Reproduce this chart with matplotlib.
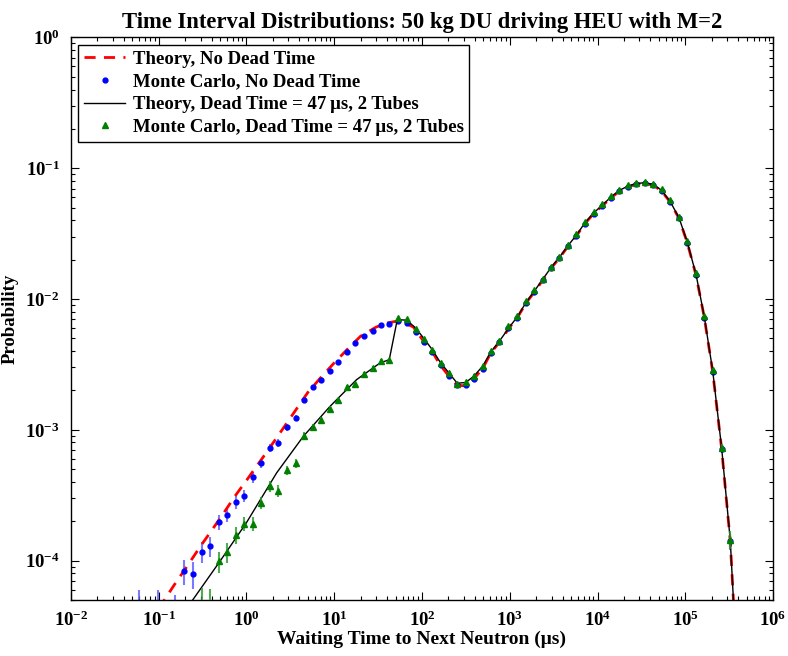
import math
import matplotlib
matplotlib.use("Agg")
import matplotlib.pyplot as plt
from matplotlib.ticker import FuncFormatter, LogLocator

plt.rcParams['font.family'] = ['Liberation Serif', 'DejaVu Serif']
plt.rcParams['font.weight'] = 'bold'
plt.rcParams['mathtext.fontset'] = 'custom'
plt.rcParams['mathtext.rm'] = 'Liberation Serif:bold'
plt.rcParams['mathtext.bf'] = 'Liberation Serif:bold'

# Theory, no dead time
theory_x = [0.1, 0.15, 0.2, 0.3, 0.5, 0.75, 1.0, 1.5, 2.0, 3.0, 5.0, 7.0, 10, 15, 20, 30,
            40, 50, 60, 80, 100, 130, 160, 200, 250, 300, 400, 500, 600, 800, 1000,
            1220, 1530, 1905, 2370, 2950, 3670, 4610, 5730, 7200, 9050, 11350, 14130,
            17740, 22100, 27700, 34800, 43300, 53800, 67000, 84900, 105500, 132700,
            164900, 205500, 260000, 326000, 360000, 400000]
theory_y = [4.3e-5, 6.5e-5, 8.6e-5, 1.29e-4, 2.1e-4, 3.15e-4, 4.1e-4, 6.0e-4, 7.9e-4, 1.17e-3,
            1.93e-3, 2.5e-3, 3.25e-3, 4.3e-3, 5.2e-3, 6.1e-3, 6.55e-3, 6.75e-3, 6.7e-3, 6.1e-3,
            4.95e-3, 4.0e-3, 3.15e-3, 2.6e-3, 2.2e-3, 2.17e-3, 2.5e-3, 3.0e-3, 3.8e-3, 4.9e-3,
            6.1e-3, 7.2e-3, 9.3e-3, 1.13e-2, 1.39e-2, 1.72e-2, 2.05e-2, 2.53e-2, 3.03e-2,
            3.78e-2, 4.5e-2, 5.15e-2, 5.92e-2, 6.67e-2, 7.2e-2, 7.55e-2, 7.65e-2, 7.42e-2,
            6.68e-2, 5.53e-2, 4.13e-2, 2.69e-2, 1.52e-2, 7.2e-3, 2.78e-3, 7.1e-4, 1.4e-4,
            4.0e-5, 8.0e-6]

# Theory, dead time 47 us
dead_x = [0.2, 0.244, 0.5, 1.0, 2.21, 4.44, 8.95, 18.0, 33.2, 42.4, 52.3, 67.0, 84.8, 105,
          131, 163, 205, 252, 315, 392, 492, 611, 760, 1000, 1220, 1530, 1905, 2370, 2950,
          3670, 4610, 5730, 7200, 9050, 11350, 14130, 17740, 22100, 27700, 34800, 43300,
          53800, 67000, 84900, 105500, 132700, 164900, 205500, 260000, 326000, 360000, 400000]
dead_y = [4.1e-5, 5.0e-5, 9.9e-5, 1.95e-4, 4.69e-4, 8.9e-4, 1.51e-3, 2.42e-3, 3.24e-3, 3.44e-3,
          6.95e-3, 6.9e-3, 6.0e-3, 5.0e-3, 4.1e-3, 3.25e-3, 2.7e-3, 2.27e-3, 2.3e-3, 2.58e-3,
          3.07e-3, 3.95e-3, 4.75e-3, 6.15e-3, 7.3e-3, 9.4e-3, 1.15e-2, 1.41e-2, 1.74e-2,
          2.08e-2, 2.56e-2, 3.07e-2, 3.83e-2, 4.56e-2, 5.22e-2, 6.0e-2, 6.76e-2, 7.3e-2,
          7.65e-2, 7.75e-2, 7.52e-2, 6.77e-2, 5.6e-2, 4.18e-2, 2.72e-2, 1.54e-2, 7.3e-3,
          2.82e-3, 7.2e-4, 1.42e-4, 4.0e-5, 8.0e-6]

# Monte Carlo, no dead time
mc_x = [0.060, 0.097, 0.155, 0.194, 0.244, 0.308, 0.384, 0.486, 0.600, 0.753, 0.944, 1.18,
        1.475, 1.85, 2.30, 2.90, 3.64, 4.56, 5.68, 7.12, 8.95, 11.1, 14.0, 17.4, 21.8, 27.4,
        34.1, 42.4, 52.8, 67.0, 84.8, 105, 131, 163, 205, 252, 315, 392, 492, 611, 760, 960,
        1220, 1530, 1905, 2370, 2950, 3670, 4610, 5730, 7200, 9050, 11350, 14130, 17740,
        22100, 27700, 34800, 43300, 53800, 67000, 84900, 105500, 132700, 164900, 205500,
        260000, 326000]
mc_y = [4.0e-5, 4.0e-5, 3.5e-5, 8.3e-5, 7.9e-5, 1.17e-4, 1.29e-4, 1.96e-4, 2.25e-4, 2.79e-4,
        3.14e-4, 4.34e-4, 5.58e-4, 7.28e-4, 7.94e-4, 1.05e-3, 1.23e-3, 1.70e-3, 2.13e-3,
        2.42e-3, 2.82e-3, 3.30e-3, 3.96e-3, 4.58e-3, 5.18e-3, 5.65e-3, 6.36e-3, 6.47e-3,
        6.74e-3, 6.55e-3, 5.62e-3, 4.69e-3, 3.94e-3, 3.11e-3, 2.59e-3, 2.19e-3, 2.21e-3,
        2.46e-3, 2.94e-3, 3.87e-3, 4.66e-3, 6.0e-3, 7.2e-3, 9.3e-3, 1.13e-2, 1.39e-2,
        1.72e-2, 2.05e-2, 2.53e-2, 3.03e-2, 3.78e-2, 4.5e-2, 5.15e-2, 5.92e-2, 6.67e-2,
        7.2e-2, 7.55e-2, 7.65e-2, 7.42e-2, 6.68e-2, 5.53e-2, 4.13e-2, 2.69e-2, 1.52e-2,
        7.2e-3, 2.78e-3, 7.1e-4, 1.4e-4]
mc_err = [2.0e-5, 2.0e-5, 2.0e-5, 1.8e-5, 1.8e-5, 2.1e-5, 2.2e-5, 2.6e-5, 2.8e-5, 3.2e-5,
          3.4e-5, 4.0e-5, 4.5e-5, 5.2e-5, 5.4e-5, 6.2e-5, 6.7e-5, 7.8e-5, 8.8e-5, 9.4e-5,
          1.0e-4, 1.1e-4, 1.2e-4, 1.3e-4, 1.4e-4, 1.5e-4, 1.6e-4, 1.6e-4, 1.6e-4, 1.6e-4,
          1.5e-4, 1.3e-4, 1.2e-4, 1.1e-4, 1.0e-4, 9.0e-5, 9.0e-5, 9.5e-5, 1.0e-4, 1.1e-4,
          1.3e-4, 1.4e-4, 1.6e-4, 1.8e-4, 2.0e-4, 2.2e-4, 2.4e-4, 2.6e-4, 2.9e-4, 3.2e-4,
          3.5e-4, 3.9e-4, 4.1e-4, 4.4e-4, 4.7e-4, 4.9e-4, 5.0e-4, 5.0e-4, 5.0e-4, 4.7e-4,
          4.3e-4, 3.7e-4, 3.0e-4, 2.2e-4, 1.5e-4, 9.6e-5, 4.8e-5, 2.0e-5]

# Monte Carlo, dead time 47 us
mcd_x = [0.308, 0.384, 0.486, 0.600, 0.753, 0.944, 1.18, 1.475, 1.85, 2.30, 2.90, 3.64, 4.56,
         5.68, 7.12, 8.95, 11.1, 14.0, 17.4, 21.8, 27.4, 34.1, 42.4, 52.8, 67.0, 84.8, 105,
         131, 163, 205, 252, 315, 392, 492, 611, 760, 960, 1220, 1530, 1905, 2370, 2950,
         3670, 4610, 5730, 7200, 9050, 11350, 14130, 17740, 22100, 27700, 34800, 43300,
         53800, 67000, 84900, 105500, 132700, 164900, 205500, 260000, 326000]
mcd_y = [4.0e-5, 4.0e-5, 9.9e-5, 1.16e-4, 1.58e-4, 1.92e-4, 1.92e-4, 2.76e-4, 3.72e-4,
         3.42e-4, 4.9e-4, 5.58e-4, 9.03e-4, 1.05e-3, 1.18e-3, 1.44e-3, 1.68e-3, 2.13e-3,
         2.25e-3, 2.69e-3, 2.97e-3, 3.38e-3, 3.40e-3, 7.10e-3, 6.98e-3, 5.95e-3, 4.97e-3,
         4.10e-3, 3.24e-3, 2.72e-3, 2.25e-3, 2.31e-3, 2.56e-3, 3.05e-3, 3.98e-3, 4.74e-3,
         6.2e-3, 7.45e-3, 9.6e-3, 1.17e-2, 1.43e-2, 1.77e-2, 2.11e-2, 2.6e-2, 3.12e-2,
         3.9e-2, 4.64e-2, 5.3e-2, 6.1e-2, 6.87e-2, 7.4e-2, 7.78e-2, 7.88e-2, 7.64e-2,
         6.88e-2, 5.7e-2, 4.25e-2, 2.77e-2, 1.57e-2, 7.4e-3, 2.86e-3, 7.3e-4, 1.45e-4]
mcd_err = [2.2e-5, 2.1e-5, 1.8e-5, 2.0e-5, 2.3e-5, 2.5e-5, 2.5e-5, 3.0e-5, 3.5e-5, 3.4e-5,
           4.0e-5, 4.3e-5, 5.5e-5, 5.9e-5, 6.3e-5, 6.9e-5, 7.5e-5, 8.4e-5, 8.6e-5, 9.4e-5,
           9.9e-5, 1.05e-4, 1.05e-4, 1.5e-4, 1.5e-4, 1.4e-4, 1.3e-4, 1.2e-4, 1.0e-4, 9.5e-5,
           8.6e-5, 8.8e-5, 9.2e-5, 1.0e-4, 1.15e-4, 1.25e-4, 1.4e-4, 1.6e-4, 1.8e-4, 2.0e-4,
           2.2e-4, 2.4e-4, 2.6e-4, 2.9e-4, 3.2e-4, 3.6e-4, 3.9e-4, 4.2e-4, 4.5e-4, 4.8e-4,
           5.0e-4, 5.1e-4, 5.1e-4, 5.0e-4, 4.8e-4, 4.3e-4, 3.8e-4, 3.0e-4, 2.3e-4, 1.6e-4,
           1.0e-4, 5.0e-5, 2.2e-5]

fig = plt.figure(figsize=(7.88, 6.56), dpi=100)
ax = fig.add_axes([0.090, 0.0854, 0.891, 0.8575])

ax.errorbar(mc_x, mc_y, yerr=mc_err, fmt='none', ecolor=(0.35, 0.35, 1.0), elinewidth=1.5,
            alpha=0.8, zorder=2)
ax.plot(theory_x, theory_y, 'r--', lw=2, dashes=(4, 3), label='Theory, No Dead Time', zorder=3)
ax.plot(mc_x, mc_y, 'b.', ms=7, label='Monte Carlo, No Dead Time', zorder=4)
ax.plot(dead_x, dead_y, 'k-', lw=1, label='Theory, Dead Time = 47\u2009μs, 2 Tubes', zorder=5)
ax.errorbar(mcd_x, mcd_y, yerr=mcd_err, fmt='none', ecolor=(0.15, 0.6, 0.15), elinewidth=1.5,
            alpha=0.8, zorder=5)
ax.plot(mcd_x, mcd_y, '^', color='green', ms=4.5,
        label='Monte Carlo, Dead Time = 47\u2009μs, 2 Tubes', zorder=6)

ax.set_xscale('log')
ax.set_yscale('log')
ax.set_xlim(1e-2, 1e6)
ax.set_ylim(5e-5, 1)

ax.xaxis.set_major_locator(LogLocator(base=10, numticks=20))
ax.yaxis.set_major_locator(LogLocator(base=10, numticks=20))
fmt = FuncFormatter(lambda v, p: r'$\mathbf{10^{%d}}$' % round(math.log10(v)))
ax.xaxis.set_major_formatter(fmt)
ax.yaxis.set_major_formatter(fmt)
ax.tick_params(which='both', direction='in', top=True, right=True, labelsize=13.5, width=0.8)
ax.tick_params(which='major', length=6, pad=8)
ax.tick_params(which='minor', length=3)
for s in ax.spines.values():
    s.set_linewidth(1.0)

ax.set_xlabel('Waiting Time to Next Neutron (μs)', fontsize=14, fontweight='bold', labelpad=0)
ax.set_ylabel('Probability', fontsize=13.5, fontweight='bold')
ax.yaxis.set_label_coords(-0.075, 0.5)
ax.set_title('Time Interval Distributions: 50 kg DU driving HEU with M=2', fontsize=16.3,
             fontweight='bold', pad=7)

leg = ax.legend(loc='upper left', fontsize=13.5, frameon=True, fancybox=False, framealpha=1,
                edgecolor='black', handlelength=2.2, handletextpad=0.4, borderpad=0.3,
                labelspacing=0.3, borderaxespad=0.4)
leg.get_frame().set_linewidth(1.0)

fig.savefig('out.png', dpi=100)
